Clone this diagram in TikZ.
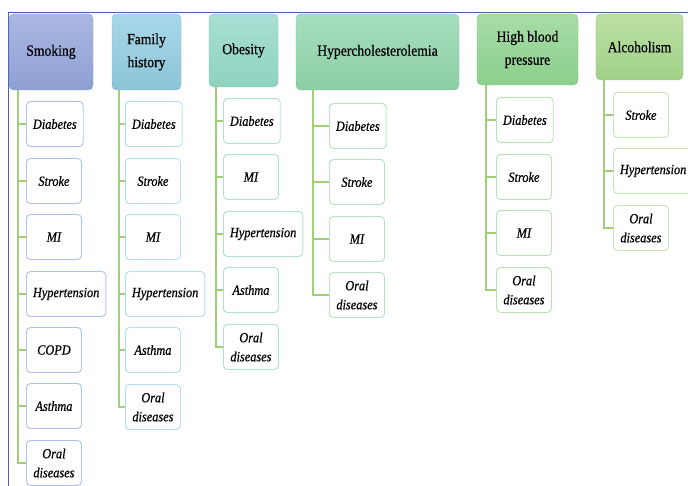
\documentclass[tikz,border=0pt]{standalone}
\usepackage{fontspec}
\setmainfont{Liberation Serif}
\newfontfamily\narrowserif[FakeStretch=0.88,FakeBold=0.6]{Liberation Serif}

\definecolor{framec}{HTML}{4463B4}
\definecolor{linkc}{HTML}{9FCF78}
\definecolor{smkT}{HTML}{ABB8E2}\definecolor{smkB}{HTML}{8E9FD3}\definecolor{smkL}{HTML}{B0C0E6}
\definecolor{famT}{HTML}{A8D8E8}\definecolor{famB}{HTML}{8CC4D8}\definecolor{famL}{HTML}{B0DEEA}
\definecolor{obeT}{HTML}{A8E0D4}\definecolor{obeB}{HTML}{8ED2BF}\definecolor{obeL}{HTML}{B0E2D4}
\definecolor{hypT}{HTML}{A6DEC0}\definecolor{hypB}{HTML}{8CCFA4}\definecolor{hypL}{HTML}{B6E2C2}
\definecolor{hbpT}{HTML}{A8DCA8}\definecolor{hbpB}{HTML}{8CCF8C}\definecolor{hbpL}{HTML}{B6E2B6}
\definecolor{alcT}{HTML}{BCE0A4}\definecolor{alcB}{HTML}{A0D088}\definecolor{alcL}{HTML}{C6E4B6}

\tikzset{
  header/.style={draw=#1B!90!black, top color=#1T, bottom color=#1B, rounded corners=5pt,
    align=center, inner sep=0pt, font=\narrowserif\fontsize{15.5}{23}\selectfont},
  item/.style={draw=#1L, line width=0.9pt, fill=white, rounded corners=4pt, anchor=west, align=center,
    minimum width=55pt, minimum height=45pt, inner xsep=6.5pt,
    font=\narrowserif\itshape\fontsize{14}{19}\selectfont},
  link/.style={draw=linkc, line width=1.4pt}
}

\begin{document}
\begin{tikzpicture}[x=1pt,y=-1pt]
  \useasboundingbox (0,0) rectangle (688,486);

  % frame
  \draw[framec, line width=1pt] (8.5,486) -- (8.5,13) -- (688,13);

  % risk factors
  \node[header=smk, minimum width=84pt, minimum height=76pt] (smk) at (51,52)    {Smoking};
  \node[header=fam, minimum width=69pt, minimum height=76pt] (fam) at (146.5,52) {Family\\history};
  \node[header=obe, minimum width=69pt, minimum height=73pt] (obe) at (243.5,50.5) {Obesity};
  \node[header=hyp, minimum width=163pt, minimum height=76pt] (hyp) at (377.5,52) {Hypercholesterolemia};
  \node[header=hbp, minimum width=101pt, minimum height=71pt] (hbp) at (527.5,49.5) {High blood\\pressure};
  \node[header=alc, minimum width=87pt, minimum height=66pt] (alc) at (639.5,47) {Alcoholism};

  % trunk tops
  \coordinate (smk-t) at (18,90);
  \coordinate (fam-t) at (119,90);
  \coordinate (obe-t) at (216,87);
  \coordinate (hyp-t) at (313,90);
  \coordinate (hbp-t) at (486,85);
  \coordinate (alc-t) at (604,80);

  % diseases
  \begin{scope}[every node/.style={item=smk}]
    \node (smk1) at (26,124) {Diabetes};
    \node (smk2) at (26,181) {Stroke};
    \node (smk3) at (26,237) {MI};
    \node (smk4) at (26,294) {Hypertension};
    \node (smk5) at (26,350) {COPD};
    \node (smk6) at (26,406) {Asthma};
    \node (smk7) at (26,463) {Oral\\diseases};
  \end{scope}
  \begin{scope}[every node/.style={item=fam}]
    \node (fam1) at (125,124) {Diabetes};
    \node (fam2) at (125,181) {Stroke};
    \node (fam3) at (125,237) {MI};
    \node (fam4) at (125,294) {Hypertension};
    \node (fam5) at (125,350) {Asthma};
    \node (fam6) at (125,407) {Oral\\diseases};
  \end{scope}
  \begin{scope}[every node/.style={item=obe}]
    \node (obe1) at (223,121) {Diabetes};
    \node (obe2) at (223,177) {MI};
    \node (obe3) at (223,234) {Hypertension};
    \node (obe4) at (223,290) {Asthma};
    \node (obe5) at (223,347) {Oral\\diseases};
  \end{scope}
  \begin{scope}[every node/.style={item=hyp}]
    \node (hyp1) at (329,126) {Diabetes};
    \node (hyp2) at (329,182) {Stroke};
    \node (hyp3) at (329,239) {MI};
    \node (hyp4) at (329,295) {Oral\\diseases};
  \end{scope}
  \begin{scope}[every node/.style={item=hbp}]
    \node (hbp1) at (496,120) {Diabetes};
    \node (hbp2) at (496,177) {Stroke};
    \node (hbp3) at (496,233) {MI};
    \node (hbp4) at (496,290) {Oral\\diseases};
  \end{scope}
  \begin{scope}[every node/.style={item=alc}]
    \node (alc1) at (613,115) {Stroke};
    \node (alc2) at (613,171) {Hypertension};
    \node (alc3) at (613,228) {Oral\\diseases};
  \end{scope}

  % links
  \foreach \n in {1,...,7} \draw[link] (smk-t) |- (smk\n.west);
  \foreach \n in {1,...,6} \draw[link] (fam-t) |- (fam\n.west);
  \foreach \n in {1,...,5} \draw[link] (obe-t) |- (obe\n.west);
  \foreach \n in {1,...,4} \draw[link] (hyp-t) |- (hyp\n.west);
  \foreach \n in {1,...,4} \draw[link] (hbp-t) |- (hbp\n.west);
  \foreach \n in {1,...,3} \draw[link] (alc-t) |- (alc\n.west);

\end{tikzpicture}
\end{document}
